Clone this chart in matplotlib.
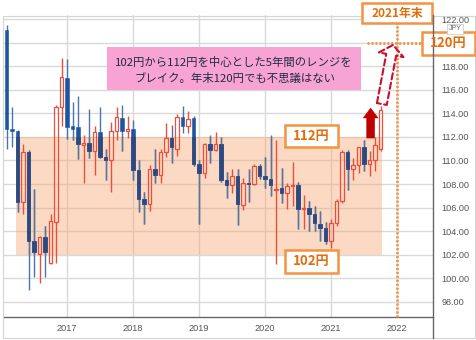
import matplotlib
matplotlib.use("Agg")
import matplotlib.pyplot as plt
import numpy as np
import pandas as pd
from matplotlib.patches import Rectangle, FancyArrowPatch, ArrowStyle

# USD/JPY monthly candles, Feb 2016 - Oct 2021
months = pd.period_range("2016-02", periods=69, freq="M")
opens = [121.1, 112.7, 112.5, 106.5, 110.7, 103.2, 102.1, 103.5, 101.3, 104.8, 114.5,
         117.0, 112.9, 112.8, 111.3, 111.5, 110.8, 112.4, 110.3, 110.0, 112.5, 113.6, 112.5,
         112.7, 109.2, 106.7, 106.3, 109.3, 108.8, 110.7, 111.9, 111.0, 113.7, 112.9, 113.6,
         109.7, 108.9, 111.4, 110.9, 111.4, 108.3, 107.9, 108.7, 106.2, 108.1, 108.0, 109.5,
         108.7, 108.4, 107.5, 107.7, 107.2, 107.8, 107.9, 105.9, 106.0, 105.5, 104.6, 104.3,
         103.2, 104.7, 106.6, 110.7, 109.3, 109.6, 111.1, 109.7, 110.0, 111.0]
highs = [121.5, 114.5, 112.6, 111.4, 110.9, 107.6, 103.6, 104.4, 105.5, 114.7, 118.7,
         118.6, 115.0, 115.5, 112.2, 114.4, 112.9, 114.5, 111.0, 113.3, 114.5, 114.7, 113.8,
         113.4, 110.0, 107.3, 109.6, 111.0, 111.0, 113.2, 113.0, 113.9, 114.6, 114.2, 113.8,
         110.0, 111.5, 112.2, 112.4, 112.0, 109.0, 109.3, 109.3, 108.5, 109.3, 109.7, 109.7,
         110.3, 112.2, 111.7, 109.4, 108.1, 109.9, 108.2, 107.1, 106.6, 106.1, 105.7, 104.8,
         105.0, 106.7, 110.9, 110.9, 110.2, 111.1, 111.7, 110.8, 112.0, 114.6]
lows = [111.0, 111.1, 105.6, 105.5, 99.0, 100.1, 99.6, 100.1, 101.2, 101.3, 112.9,
        111.8, 111.7, 110.1, 108.1, 110.2, 108.8, 110.2, 108.3, 107.3, 111.7, 110.8, 111.9,
        108.3, 105.6, 104.6, 105.7, 108.1, 108.1, 110.3, 109.8, 110.4, 112.3, 112.3, 109.5,
        104.6, 108.5, 109.8, 110.8, 108.2, 106.8, 107.2, 104.5, 105.8, 106.5, 107.9, 108.4,
        107.7, 107.0, 101.2, 106.4, 105.9, 106.1, 104.2, 104.2, 104.0, 104.0, 103.2, 102.9,
        102.6, 104.4, 106.4, 107.5, 108.3, 108.9, 109.1, 108.7, 109.1, 110.8]
closes = [112.7, 112.5, 106.5, 110.7, 103.2, 102.2, 103.5, 102.2, 104.9, 114.5, 117.1,
          112.8, 112.7, 111.4, 111.5, 110.8, 112.4, 110.3, 110.0, 112.5, 113.7, 112.5, 112.7,
          109.2, 106.7, 106.3, 109.3, 108.8, 110.7, 111.9, 111.1, 113.7, 112.9, 113.5, 109.7,
          108.9, 111.4, 110.9, 111.4, 108.3, 107.9, 108.7, 106.3, 108.1, 108.0, 109.5, 108.7,
          108.4, 107.9, 107.6, 107.2, 107.8, 107.9, 105.9, 106.0, 105.5, 104.7, 104.3, 103.2,
          104.7, 106.6, 110.7, 109.3, 109.6, 111.1, 109.7, 110.0, 111.3, 114.3]

range_low, range_high = 102, 112
range_start, range_end = 2016.23, 2021.77
target_level = 120
target_year = 2022
year_ticks = [2017, 2018, 2019, 2020, 2021, 2022]
price_ticks = list(range(98, 123, 2))

JP = ["Noto Sans CJK JP", "DejaVu Sans"]
ORANGE_EDGE = "#f39343"
ORANGE_TEXT = "#e46c0a"

W, H = 477, 340
fig = plt.figure(figsize=(W / 100, H / 100), dpi=100)
L, R, T, B = 4, 433, 15, 317
ax = fig.add_axes([L / W, 1 - B / H, (R - L) / W, (B - T) / H])

x = np.array([p.year + (p.month - 1) / 12 for p in months])
o, h, l, c = map(np.asarray, (opens, highs, lows, closes))
up = c >= o
top = np.maximum(o, c)
bot = np.minimum(o, c)
body_w = 0.05

# gridlines and trading range band
ax.set_axisbelow(True)
ax.grid(True, color="#d9d9d9", lw=1.0)
band = Rectangle((range_start, range_low), range_end - range_start, range_high - range_low,
                 facecolor=(247 / 255, 162 / 255, 105 / 255), alpha=0.4, lw=0, zorder=1)
ax.add_patch(band)


def candles(up_col, up_wick, dn_col, dn_wick, z, only_down=False, clip=None):
    arts = []
    if not only_down:
        arts.append(ax.vlines(x[up], top[up], h[up], color=up_wick, lw=1.0, zorder=z))
        arts.append(ax.vlines(x[up], l[up], bot[up], color=up_wick, lw=1.0, zorder=z))
        arts.extend(ax.bar(x[up], np.maximum(top - bot, 0.08)[up], bottom=bot[up], width=body_w,
                           facecolor="none", edgecolor=up_col, lw=0.9, zorder=z + 0.1).patches)
    arts.append(ax.vlines(x[~up], l[~up], h[~up], color=dn_wick, lw=1.0, zorder=z))
    arts.extend(ax.bar(x[~up], np.maximum(top - bot, 0.12)[~up], bottom=bot[~up], width=body_w,
                       facecolor=dn_col, edgecolor=dn_col, lw=0.4, zorder=z + 0.1).patches)
    if clip is not None:
        for a in arts:
            a.set_clip_path(clip)


candles("#e8503c", "#e8503c", "#1e55a3", "#4a74b0", 3)
candles(None, None, "#2c4a80", "#5f7396", 4, only_down=True, clip=band)

ax.set_xlim(2016.045, 2022.545)
ax.set_ylim(96.72, 122.34)

ax.set_xticks(year_ticks)
ax.set_xticklabels([str(y) for y in year_ticks], fontsize=6.6, color="#555555",
                   family="Liberation Sans")
ax.yaxis.tick_right()
ax.set_yticks(price_ticks)
# the 120 label sits under the "120円" tag, so it is left blank
ax.set_yticklabels(["" if v == target_level else f"{v:.2f}" for v in price_ticks],
                   fontsize=6.6, color="#555555", family="Liberation Sans")
ax.tick_params(axis="x", length=0, pad=5)
ax.tick_params(axis="y", length=0, pad=6)
for side in ("left", "top", "right"):
    ax.spines[side].set_visible(False)
ax.spines["bottom"].set_color("#666666")
ax.spines["bottom"].set_linewidth(1.0)

# year-end target guides
ax.plot([target_year, target_year], [96.72, 121.66], color=ORANGE_EDGE, lw=1.9,
        ls=(0, (0.8, 0.7)), zorder=5, clip_on=False)
ax.plot([2021.55, 2022.38], [target_level, target_level], color=ORANGE_EDGE, lw=1.9,
        ls=(0, (0.8, 0.7)), zorder=5, clip_on=False)

# breakout arrows
ax.add_patch(FancyArrowPatch((2021.60, 111.9), (2021.60, 114.45),
                             arrowstyle=ArrowStyle.Simple(head_length=0.72, head_width=1.08,
                                                          tail_width=0.58),
                             mutation_scale=10, facecolor="#c00000", edgecolor="#c00000",
                             lw=0.3, shrinkA=0, shrinkB=0, zorder=6))
ax.add_patch(FancyArrowPatch((2021.77, 114.79), (2021.94, 119.8),
                             arrowstyle=ArrowStyle.Simple(head_length=0.72, head_width=1.8,
                                                          tail_width=0.72),
                             mutation_scale=10, facecolor="none", edgecolor="#c8102e",
                             lw=1.5, ls=(0, (3, 1.6)), shrinkA=0, shrinkB=0, zorder=6))

# overlay in pixel coordinates for frame and labels
ov = fig.add_axes([0, 0, 1, 1], zorder=10)
ov.set_xlim(0, W)
ov.set_ylim(H, 0)
ov.axis("off")
ov.patch.set_visible(False)

ov.add_patch(Rectangle((3.5, 15.5), 472, 322, facecolor="none", edgecolor="#d4d4d4", lw=0.8))
ov.plot([433, 433], [15, 338], color="#666666", lw=1.0)

ov.text(455, 29, "JPY", fontsize=5.0, color="#666666", ha="center", va="center",
        family="Liberation Sans",
        bbox=dict(boxstyle="square,pad=0.2", facecolor="white", edgecolor="#d0d0d0", lw=0.6))

# message box
ov.add_patch(Rectangle((107, 47), 254, 43, facecolor="#f7a3d4", edgecolor="none"))
ov.text(234, 62, "102円から112円を中心とした5年間のレンジを", fontsize=8.2, color="#1f2a44",
        ha="center", va="center", family=JP)
ov.text(235, 78, "ブレイク。年末120円でも不思議はない", fontsize=8.2, color="#1f2a44",
        ha="center", va="center", family=JP)


def tag(x0, y0, x1, y1, s, size):
    ov.add_patch(Rectangle((x0, y0), x1 - x0, y1 - y0, facecolor="white",
                           edgecolor=ORANGE_EDGE, lw=1.8))
    ov.text((x0 + x1) / 2, (y0 + y1) / 2, s, fontsize=size, color=ORANGE_TEXT,
            fontweight="bold", ha="center", va="center", family=JP)


tag(285, 125, 338, 147, "112円", 9.5)
tag(285, 250, 338, 273, "102円", 9.5)
tag(362, 3, 432, 23, "2021年末", 8.6)
tag(422, 32, 475, 55, "120円", 9.5)

fig.savefig("out.png", dpi=100)
